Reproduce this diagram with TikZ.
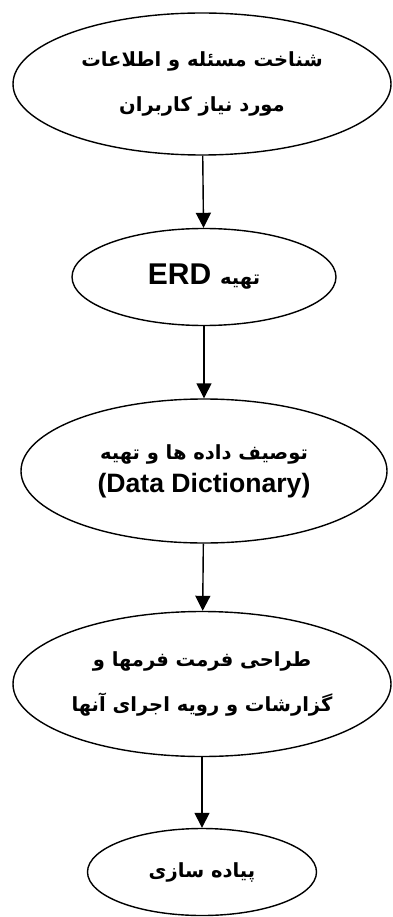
\documentclass[tikz,border=0pt]{standalone}
\usepackage{fontspec}
\setmainfont{Liberation Sans}
\newfontfamily\fa[Script=Arabic]{DejaVu Sans}
\TeXXeTstate=1
\usetikzlibrary{shapes.geometric,arrows.meta}
\tikzset{
  stage/.style={ellipse, draw, line width=1.4pt, inner sep=0pt, align=center, text=black},
  flow/.style={line width=1.4pt, -{Triangle[width=15pt,length=15pt]}},
  fatext/.style={font=\fa\bfseries\fontsize{19.5}{45}\selectfont}
}
\begin{document}
\begin{tikzpicture}[x=1pt,y=-1pt]
\useasboundingbox (0,0) rectangle (392,917);
\node[stage, fatext, minimum width=378pt, minimum height=142pt] (s1) at (202,84)
  {\beginR شناخت مسئله و اطلاعات\endR\\\beginR مورد نیاز کاربران\endR};
\node[stage, minimum width=264pt, minimum height=97pt] (s2) at (204,277)
  {\beginR{\fa\bfseries\fontsize{19.5}{24}\selectfont تهیه}\hspace{9pt}{\bfseries\fontsize{30}{36}\selectfont\beginL ERD\endL}\endR};
\node[stage, minimum width=366pt, minimum height=144pt, font=\bfseries\fontsize{26.6}{33}\selectfont] (s3) at (204,471)
  {{\fa\fontsize{19.5}{33}\selectfont\beginR توصیف داده ها و تهیه\endR}\\(Data Dictionary)};
\node[stage, fatext, minimum width=378pt, minimum height=145pt] (s4) at (202,684)
  {\beginR طراحی فرمت فرمها و\endR\\\beginR گزارشات و رویه اجرای آنها\endR};
\node[stage, fatext, minimum width=229pt, minimum height=87pt] (s5) at (202,872)
  {\beginR پیاده سازی\endR};
\draw[flow] (s1) -- (s2);
\draw[flow] (s2) -- (s3);
\draw[flow] (s3) -- (s4);
\draw[flow] (s4) -- (s5);
\end{tikzpicture}
\end{document}
